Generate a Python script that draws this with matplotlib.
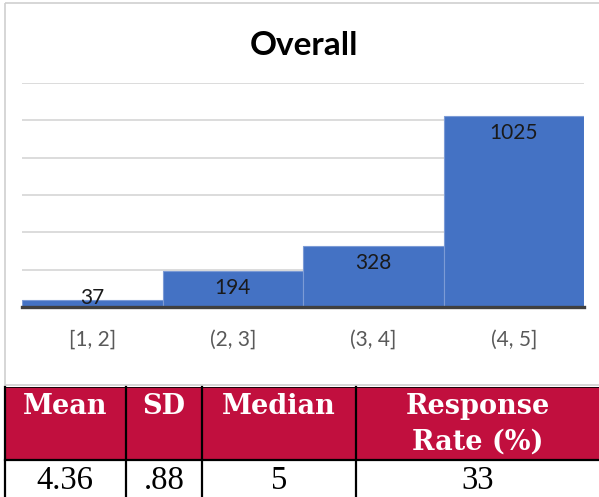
import matplotlib
matplotlib.use("Agg")
import matplotlib.pyplot as plt
from matplotlib.patches import Rectangle

# ---- data ----
categories = ["[1, 2]", "(2, 3]", "(3, 4]", "(4, 5]"]
counts = [37, 194, 328, 1025]
title = "Overall"
table_headers = ["Mean", "SD", "Median", "Response\nRate (%)"]
table_values = ["4.36", ".88", "5", "33"]

W, H = 599, 497
fig = plt.figure(figsize=(W / 100, H / 100), dpi=100)

def px_axes(x0, y0, x1, y1):
    return [x0 / W, 1 - y1 / H, (x1 - x0) / W, (y1 - y0) / H]

# background overlay axes in pixel coords
bg = fig.add_axes([0, 0, 1, 1])
bg.set_xlim(0, W)
bg.set_ylim(H, 0)
bg.axis("off")

# chart frame
bg.add_patch(Rectangle((4.5, 2.5), 700, 382.5, fill=False, edgecolor="#D0D0D0", lw=1.2))

# bar chart axes
ax = fig.add_axes(px_axes(22, 83, 584, 307))
x = list(range(len(categories)))
ax.bar(x, counts, width=1.0, color="#4472C4", edgecolor="#7C9BD6", linewidth=0.8, zorder=2)
ax.set_xlim(-0.5, len(categories) - 0.5)
ax.set_ylim(0, 1200)
ax.set_yticks(range(0, 1201, 200))
ax.yaxis.grid(True, color="#D9D9D9", linewidth=1.3, zorder=0)
ax.set_axisbelow(True)
for s in ["top", "right", "left"]:
    ax.spines[s].set_visible(False)
ax.spines["bottom"].set_color("#404040")
ax.spines["bottom"].set_linewidth(2.4)
ax.spines["bottom"].set_zorder(3)
ax.tick_params(axis="y", left=False, labelleft=False)
ax.tick_params(axis="x", bottom=False, pad=13)
ax.set_xticks(x)
ax.set_xticklabels(categories, fontsize=15, color="#595959", family="Lato")

per_px = 1200 / 224.0
for xi, v in zip(x, counts):
    ly = max(v - 17 * per_px, 9 * per_px)
    ax.text(xi, ly, str(v), ha="center", va="center", fontsize=15, family="Lato",
            color="#1a1a1a", zorder=4)

bg.text(304, 55, title, ha="center", va="baseline", fontsize=24, fontweight="bold",
        family="Lato", color="black")

# table
col_edges = [4.5, 126, 202, 356, 640]
top, mid, bot = 387, 459.5, 520
crimson = "#C10F3E"
bg.add_patch(Rectangle((col_edges[0], top), col_edges[-1] - col_edges[0], mid - top,
                       facecolor=crimson, edgecolor="none"))
lw = 1.6
bg.plot([col_edges[0], col_edges[-1]], [mid, mid], color="black", lw=lw)
bg.plot([col_edges[0], col_edges[-1]], [top, top], color="black", lw=0.6)
for ce in col_edges[:-1]:
    bg.plot([ce, ce], [top, bot], color="black", lw=lw)

for i, (hd, val) in enumerate(zip(table_headers, table_values)):
    cx = (col_edges[i] + col_edges[i + 1]) / 2
    if i == len(table_headers) - 1:
        cx = 478
    bg.text(cx, 393, hd, ha="center", va="top", fontsize=19.5, fontweight="bold",
            family="DejaVu Serif", color="white", linespacing=1.42)
    bg.text(cx, 489, val, ha="center", va="baseline", fontsize=23.5,
            family="Liberation Serif", color="black")

fig.savefig("out.png", dpi=100)
